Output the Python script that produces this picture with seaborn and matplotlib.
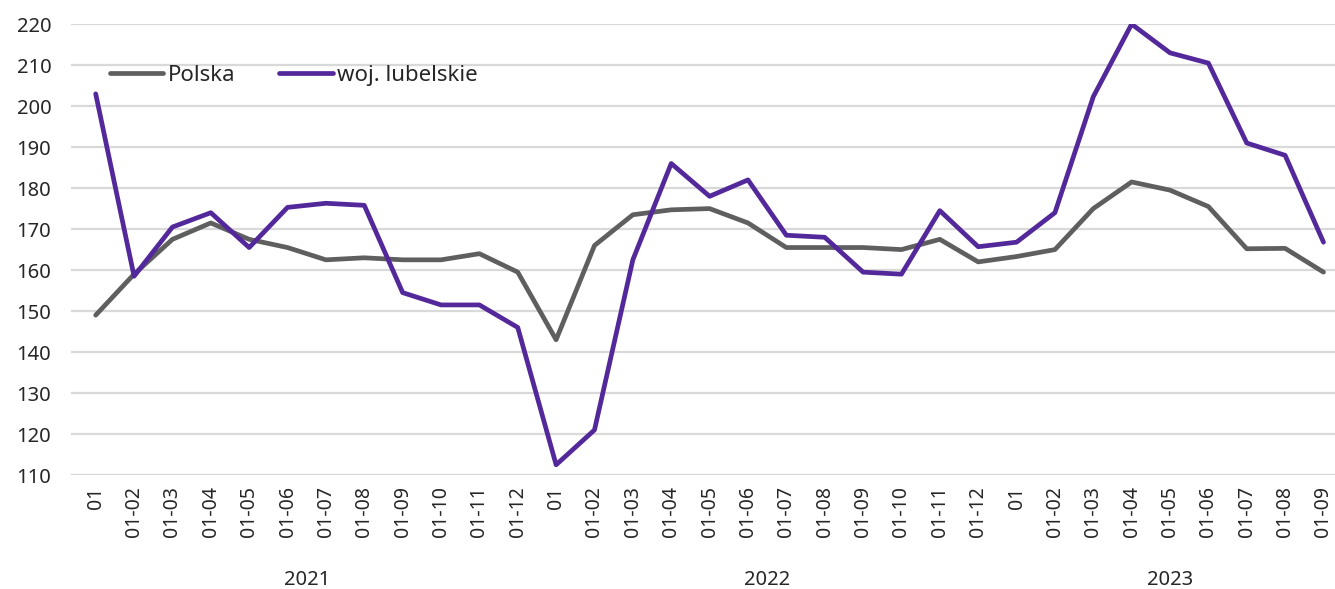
import pandas as pd
import matplotlib.pyplot as plt
import matplotlib.transforms as mtransforms
import seaborn as sns

# month labels: 2021 (12), 2022 (12), 2023 (9)
years = ['2021', '2022', '2023']
months_per_year = [12, 12, 9]
month_labels = (['01'] + [f'01-{m:02d}' for m in range(2, 13)]
                + ['01'] + [f'01-{m:02d}' for m in range(2, 13)]
                + ['01'] + [f'01-{m:02d}' for m in range(2, 10)])

polska = [149, 159, 167.5, 171.5, 167.5, 165.5, 162.5, 163, 162.5, 162.5, 164, 159.5,
          143, 166, 173.5, 174.7, 175, 171.5, 165.5, 165.5, 165.5, 165, 167.5, 162,
          163.3, 165, 175, 181.5, 179.5, 175.5, 165.2, 165.3, 159.5]
lubelskie = [203, 158.5, 170.5, 174, 165.5, 175.3, 176.3, 175.8, 154.5, 151.5, 151.5, 146,
             112.5, 121, 162.5, 186, 178, 182, 168.5, 168, 159.5, 159, 174.5, 165.7,
             166.8, 174, 202.3, 220, 213, 210.5, 191, 188, 166.8]

series_names = ['Polska', 'woj. lubelskie']
colors = {'Polska': '#5f5f5f', 'woj. lubelskie': '#53289a'}

df = pd.concat([
    pd.DataFrame({'idx': range(len(polska)), 'value': polska, 'series': 'Polska'}),
    pd.DataFrame({'idx': range(len(lubelskie)), 'value': lubelskie, 'series': 'woj. lubelskie'}),
])

sns.set_style('white')
plt.rcParams['font.family'] = ['Noto Sans', 'DejaVu Sans']

fig = plt.figure(figsize=(13.35, 5.89), dpi=100)
ax = fig.add_axes([0.053, 0.1935, 0.947, 0.7655])

sns.lineplot(data=df, x='idx', y='value', hue='series', palette=colors,
             hue_order=series_names, linewidth=3.4, ax=ax, sort=False)

ax.set_ylim(110, 220)
ax.set_yticks(range(110, 221, 10))
ax.set_xlim(-0.65, 32.3)
ax.set_xticks(range(len(month_labels)))
ax.set_xticklabels(month_labels, rotation=90, fontsize=14)
ax.tick_params(axis='y', labelsize=14.5, length=0, pad=14)
ax.tick_params(axis='x', length=0, pad=8)
ax.yaxis.grid(True, color='#d9d9d9', linewidth=1.6)
ax.set_axisbelow(True)
for s in ax.spines.values():
    s.set_visible(False)
ax.set_xlabel('')
ax.set_ylabel('')

# year labels under month groups
trans = mtransforms.blended_transform_factory(ax.transData, fig.transFigure)
start = 0
for year, n in zip(years, months_per_year):
    center = start + (n - 1) / 2
    ax.text(center, 1 - 580 / 589, year, transform=trans, ha='center', va='center', fontsize=14.5)
    start += n

ax.legend(loc='center left', bbox_to_anchor=(0.022, 0.887), ncol=2, frameon=False,
          fontsize=16, handlelength=2.4, handletextpad=0.2, columnspacing=2.0, borderpad=0)

plt.savefig('out.png', dpi=100)
